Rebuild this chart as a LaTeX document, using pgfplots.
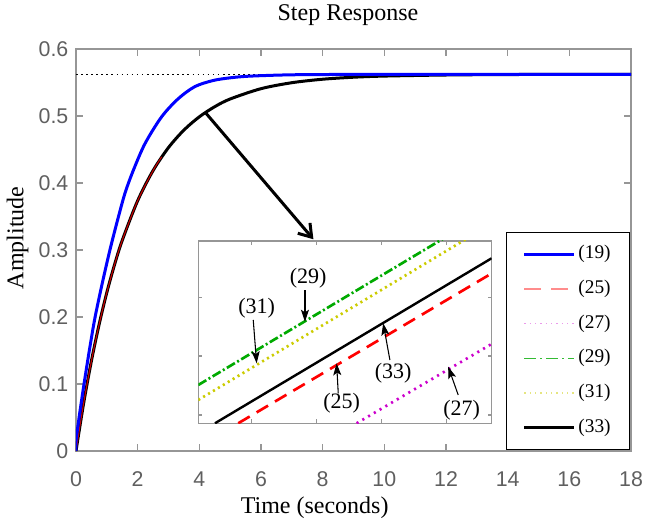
\documentclass[border=0pt]{standalone}
\usepackage{fontspec}
\setmainfont{Liberation Serif}
\newfontfamily\arialfont{Liberation Sans}
\usepackage{pgfplots}
\pgfplotsset{compat=1.18}
\usetikzlibrary{arrows.meta}
\definecolor{axgray}{RGB}{150,150,150}
\definecolor{lblgray}{RGB}{95,95,95}
\definecolor{mgreen}{RGB}{0,170,0}
\definecolor{myellow}{RGB}{204,204,0}
\definecolor{mmagenta}{RGB}{204,0,204}

\begin{document}
\begin{tikzpicture}
\path[use as bounding box] (-57pt,-50.25pt) rectangle (435pt,338.25pt);
\begin{axis}[
  at={(0pt,0pt)}, anchor=south west,
  scale only axis, width=416.25pt, height=301.5pt,
  xmin=0, xmax=18, ymin=0, ymax=0.6,
  xtick={0,2,...,18}, ytick={0,0.1,0.2,0.3,0.4,0.5,0.6},
  tick align=inside, major tick length=5pt,
  axis line style={axgray, line width=1.1pt},
  tick style={axgray, line width=1pt},
  ticklabel style={font=\arialfont\fontsize{16}{16}\selectfont, text=lblgray},
  /pgf/number format/assume math mode=true,
  yticklabel style={/pgf/number format/fixed, /pgf/number format/precision=1, xshift=-2.2pt},
  xticklabel style={anchor=base, yshift=-26.25pt},
  title={Step Response},
  title style={at={(axis description cs:0.49,1)}, anchor=base, yshift=15.75pt, font=\fontsize{18}{18}\selectfont},
  xlabel={Time (seconds)},
  xlabel style={at={(axis description cs:0.43,0)}, anchor=base, yshift=-46.5pt, font=\fontsize{18}{18}\selectfont},
  ylabel={Amplitude},
  ylabel style={at={(axis description cs:-0.0769,0.53)}, anchor=south, font=\fontsize{18}{18}\selectfont},
  legend image code/.code={\draw[#1] (0pt,0pt) -- (37.5pt,0pt);},
  legend style={at={(rel axis cs:1,0)}, anchor=south east, xshift=-0.75pt, yshift=0.75pt,
    draw=black, line width=0.6pt, fill=white,
    font=\fontsize{14.5}{14.5}\selectfont,
    inner xsep=12.3pt, inner ysep=10pt, row sep=13pt,
    nodes={inner xsep=1.9pt, inner ysep=0pt, text height=10pt, text depth=3pt}},
  legend cell align=left,
]
% steady-state level
\addplot[forget plot, black, line width=1.2pt, dash pattern=on 1.2pt off 2.6pt] coordinates {(0,0.562) (18,0.562)};
% (33)
\addplot[forget plot, black, line width=2.25pt, smooth] coordinates {
  (0,0) (0.25,0.0718) (0.5,0.1344) (0.75,0.1889) (1,0.2366) (1.25,0.2781)
  (1.5,0.3144) (2,0.3736) (2.5,0.4186) (3,0.4529) (3.5,0.4790) (4,0.4988)
  (4.5,0.5139) (5,0.5254) (6,0.5408) (7,0.5497) (8,0.5549) (9,0.5579)
  (10,0.5596) (12,0.5612) (14,0.5619) (16,0.5620) (18,0.5620)
};
% (25)
\addplot[forget plot, red!80!black, line width=0.8pt, smooth] coordinates {
  (0,0) (0.25,0.0718) (0.5,0.1344) (0.75,0.1889) (1,0.2366) (1.25,0.2781)
  (1.5,0.3144) (2,0.3736) (2.5,0.4186) (2.78,0.4390)
};
% (19)
\addplot[forget plot, blue, line width=2.25pt, smooth] coordinates {
  (0,0) (0,0.015) (0.1,0.05) (0.26,0.1) (0.45,0.155) (0.62,0.2) (0.85,0.25)
  (1.1,0.3) (1.35,0.345) (1.59,0.385) (1.86,0.419) (2.24,0.459) (2.78,0.499)
  (3.32,0.526) (3.86,0.544) (4.45,0.553) (5.0,0.557) (5.64,0.5595) (7,0.5615)
  (9,0.562) (18,0.562)
};
\draw[line width=2.25pt, -{Straight Barb[length=9pt,width=12pt]}] (axis cs:4.2,0.505) -- (axis cs:7.7,0.316);

\addlegendimage{blue, line width=2.25pt}
\addlegendentry{(19)}
\addlegendimage{red!45, line width=1pt, dash pattern=on 12.5pt off 7.5pt}
\addlegendentry{(25)}
\addlegendimage{mmagenta!40, line width=1pt, dash pattern=on 1pt off 3pt}
\addlegendentry{(27)}
\addlegendimage{mgreen!80, line width=1pt, dash pattern=on 9pt off 3pt on 1.5pt off 3pt}
\addlegendentry{(29)}
\addlegendimage{myellow!50, line width=1pt, dash pattern=on 1pt off 3pt}
\addlegendentry{(31)}
\addlegendimage{black, line width=2.25pt}
\addlegendentry{(33)}
\end{axis}

\begin{axis}[
  at={(91.7pt,20.8pt)}, anchor=south west,
  scale only axis, width=220pt, height=136.7pt,
  xmin=0, xmax=4.514, ymin=0, ymax=3.09,
  xtick={0.82,1.82,2.82,3.82}, ytick={0.14,1.14,2.14},
  xticklabels={}, yticklabels={},
  tick align=inside, major tick length=3pt,
  axis line style={axgray, line width=1pt},
  tick style={axgray, line width=0.8pt},
  axis background/.style={fill=white},
]
\addplot[mgreen, line width=2pt, dash pattern=on 7pt off 2pt on 1.5pt off 2pt] coordinates {(0,0.649) (3.80,3.150)};
\addplot[myellow, line width=2pt, dash pattern=on 1.6pt off 2.7pt] coordinates {(0,0.395) (4.15,3.142)};
\addplot[black, line width=1.8pt] coordinates {(0.257,0) (4.514,2.797)};
\addplot[red, line width=2pt, dash pattern=on 10pt off 6pt] coordinates {(0.615,0) (4.514,2.540)};
\addplot[mmagenta, line width=2pt, dash pattern=on 1.6pt off 3.4pt] coordinates {(2.437,0) (4.514,1.344)};

\tikzset{ann/.style={font=\fontsize{16.5}{16.5}\selectfont, inner sep=0pt},
  annarr/.style={line width=0.8pt, -{Stealth[length=9pt,width=6pt,inset=2pt]}}}
\node[ann] at (axis cs:1.692,2.458) {(29)};
\draw[annarr] (axis cs:1.642,2.259) -- (axis cs:1.642,1.722);
\node[ann] at (axis cs:0.898,1.949) {(31)};
\draw[annarr] (axis cs:0.846,1.751) -- (axis cs:0.898,1.017);
\node[ann] at (axis cs:3.0,0.847) {(33)};
\draw[annarr] (axis cs:2.949,1.073) -- (axis cs:2.846,1.695);
\node[ann] at (axis cs:2.206,0.339) {(25)};
\draw[annarr] (axis cs:2.154,0.508) -- (axis cs:2.129,1.017);
\node[ann] at (axis cs:4.052,0.225) {(27)};
\draw[annarr] (axis cs:4.0,0.48) -- (axis cs:3.846,0.959);
\end{axis}
\end{tikzpicture}
\end{document}
